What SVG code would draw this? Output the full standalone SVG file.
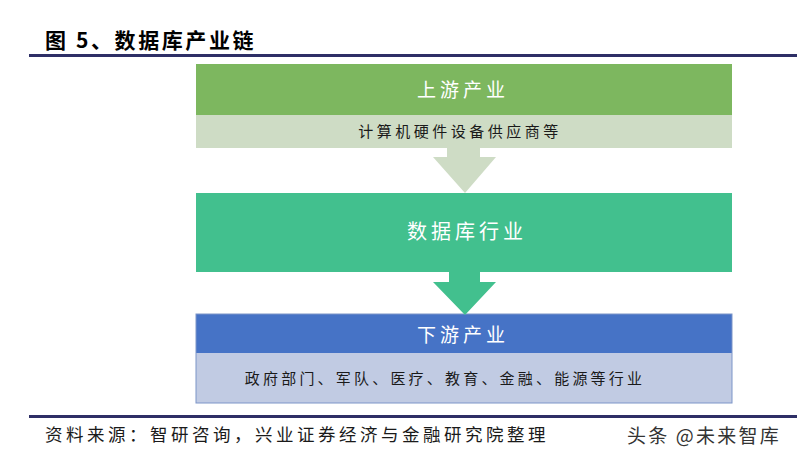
<svg xmlns="http://www.w3.org/2000/svg" width="797" height="462" viewBox="0 0 797 462">
<style>
.cjk{font-family:"Noto Sans CJK SC","Noto Sans",sans-serif}
.head{font-size:19px;fill:#ffffff;text-anchor:middle;letter-spacing:4px}
.sub{font-size:15px;fill:#1a1a1a;text-anchor:middle;letter-spacing:3.5px}
.rule{fill:#2e2f66}
</style>
<rect width="797" height="462" fill="#ffffff"/>
<text class="cjk" x="45" y="48" font-size="21" font-weight="bold" fill="#000000" letter-spacing="2.6">图 5、数据库产业链</text>
<rect class="rule" x="29" y="54" width="768" height="3"/>
<g id="upstream">
<rect x="196" y="64" width="536" height="51" fill="#7db75f"/>
<rect x="196" y="115" width="536" height="33" fill="#cedcc5"/>
<text class="cjk head" x="463" y="97">上游产业</text>
<text class="cjk sub" x="460" y="137">计算机硬件设备供应商等</text>
</g>
<g id="database">
<rect x="196" y="193" width="536" height="79" fill="#42c08e"/>
<text class="cjk head" x="467" y="239" style="font-size:20px">数据库行业</text>
</g>
<g id="downstream">
<rect x="196" y="314" width="536" height="39" fill="#4673c6"/>
<rect x="196" y="353" width="536" height="50" fill="#c1cbe3"/>
<rect x="196" y="314" width="536" height="89" fill="none" stroke="#7d95c8" stroke-width="1"/>
<text class="cjk sub" x="445" y="384" style="letter-spacing:3.2px">政府部门、军队、医疗、教育、金融、能源等行业</text>
<text class="cjk head" x="463" y="342">下游产业</text>
</g>
<g id="connectors">
<polygon points="447,148 480,148 480,157 496,157 465,193 433,157 447,157" fill="#cedcc5"/>
<polygon points="449,272 480,272 480,282 496,282 465,315 433,282 449,282" fill="#42c08e"/>
</g>
<rect class="rule" x="29" y="415" width="768" height="3"/>
<text class="cjk" x="45" y="441" font-size="17.5" fill="#1a1a1a" letter-spacing="3.5">资料来源：智研咨询，兴业证券经济与金融研究院整理</text>
<text class="cjk" x="627" y="443" font-size="19" fill="#333333" letter-spacing="2.2">头条 @未来智库</text>
</svg>
